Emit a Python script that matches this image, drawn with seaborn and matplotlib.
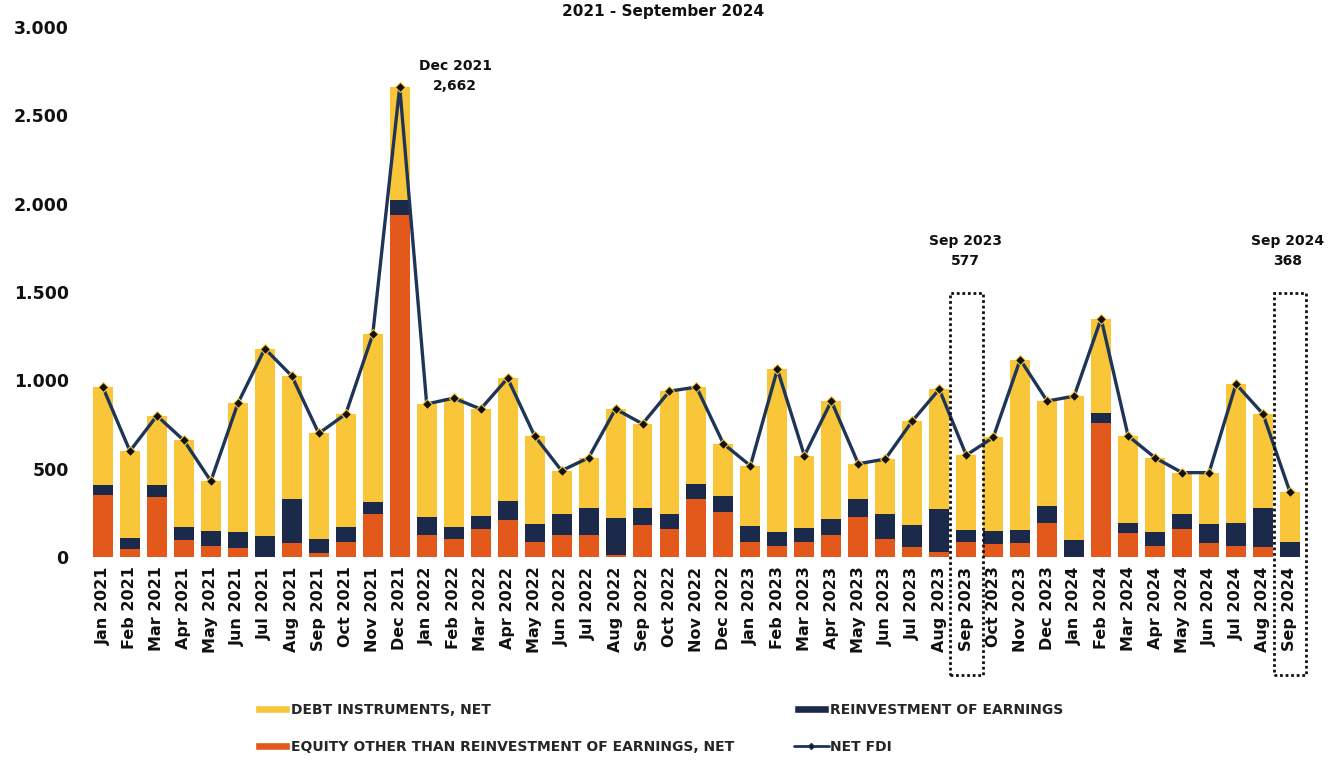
import numpy as np
import pandas as pd
import matplotlib
matplotlib.use("Agg")
import matplotlib.pyplot as plt
import seaborn as sns
from matplotlib.patches import Patch, Rectangle
from matplotlib.lines import Line2D

# Monthly net FDI components (USD million), Jan 2021 - Sep 2024
months = [f"{m} {y}" for y in (2021, 2022, 2023) for m in
          ("Jan", "Feb", "Mar", "Apr", "May", "Jun", "Jul", "Aug", "Sep", "Oct", "Nov", "Dec")]
months += [f"{m} 2024" for m in ("Jan", "Feb", "Mar", "Apr", "May", "Jun", "Jul", "Aug", "Sep")]

equity = [350, 45, 340, 95, 65, 50, 0, 80, 25, 85, 245, 1935,
          125, 105, 160, 210, 85, 125, 125, 10, 180, 160, 330, 255,
          85, 65, 85, 125, 225, 105, 55, 30, 85, 75, 80, 195,
          0, 760, 135, 65, 160, 80, 65, 55, 0]
reinvestment = [60, 65, 70, 75, 85, 90, 120, 250, 75, 85, 65, 85,
                100, 65, 70, 105, 105, 120, 155, 210, 95, 85, 85, 90,
                90, 75, 80, 90, 105, 140, 125, 240, 70, 75, 75, 95,
                95, 55, 60, 75, 85, 105, 130, 225, 85]
debt = [550, 490, 390, 490, 280, 730, 1060, 695, 600, 640, 950, 642,
        641, 730, 608, 697, 496, 244, 282, 618, 479, 694, 547, 296,
        342, 923, 409, 668, 198, 310, 590, 680, 422, 527, 963, 593,
        816, 535, 491, 422, 233, 293, 784, 530, 283]
net_fdi = [960, 600, 800, 660, 430, 870, 1180, 1025, 700, 810, 1260, 2662,
           866, 900, 838, 1012, 686, 489, 562, 838, 754, 939, 962, 641,
           517, 1063, 574, 883, 528, 555, 770, 950, 577, 677, 1118, 883,
           911, 1350, 686, 562, 478, 478, 979, 810, 368]

y_ticks = [0, 500, 1000, 1500, 2000, 2500, 3000]
callouts = [("Dec 2021", 2662), ("Sep 2023", 577), ("Sep 2024", 368)]
highlighted = ["Sep 2023", "Sep 2024"]

YELLOW = "#F9C63A"
ORANGE = "#E2591B"
NAVY = "#1B2A4A"
LINE = "#1E3557"

sns.set_theme(style="white")
plt.rcParams["font.family"] = ["DejaVu Sans"]
plt.rcParams["font.weight"] = "bold"

df = pd.DataFrame({"month": months, "equity": equity,
                   "reinvestment": reinvestment, "debt": debt, "net": net_fdi})
df["eq_re"] = df["equity"] + df["reinvestment"]
df["total"] = df["eq_re"] + df["debt"]
pos = np.arange(len(df))

fig = plt.figure(figsize=(13.35, 7.61), dpi=100)
ax = fig.add_axes([0.065, 0.261, 0.9134, 0.7035])

# stacked columns drawn as layered cumulative bars
bar_kw = dict(order=months, width=0.74, saturation=1, errorbar=None, ax=ax, linewidth=0)
sns.barplot(data=df, x="month", y="total", color=YELLOW, **bar_kw)
sns.barplot(data=df, x="month", y="eq_re", color=NAVY, **bar_kw)
sns.barplot(data=df, x="month", y="equity", color=ORANGE, **bar_kw)

# net FDI line
sns.lineplot(x=pos, y=df["net"].to_numpy(), color=LINE, linewidth=2.4, marker="D",
             markersize=5, markerfacecolor="#111111", markeredgecolor=YELLOW,
             markeredgewidth=0.8, ax=ax, legend=False, zorder=5)

ax.set_xlim(-0.6, len(df) - 0.4)
ax.set_ylim(-30, 3000)
ax.set_xlabel("")
ax.set_ylabel("")
ax.set_xticks(pos)
ax.set_xticklabels(months, rotation=90, fontsize=11.5, fontweight="bold", color="#111111")
ax.set_yticks(y_ticks)
ax.set_yticklabels([f"{v:,}".replace(",", ".") for v in y_ticks],
                   fontsize=12.5, fontweight="bold", color="#111111")
ax.tick_params(axis="x", length=0, pad=3)
ax.tick_params(axis="y", length=0, pad=13)
for s in ax.spines.values():
    s.set_visible(False)
ax.grid(False)

# callouts
label_pos = {"Dec 2021": (13.05, 2723), "Sep 2023": (31.97, 1732), "Sep 2024": (43.9, 1732)}
for name, val in callouts:
    x, y = label_pos[name]
    ax.text(x, y, f"{name}\n{val:,}", ha="center", va="center", fontsize=10,
            fontweight="bold", linespacing=1.55, color="#111111")

# dotted frames around the highlighted months
for name in highlighted:
    i = months.index(name)
    ax.add_patch(Rectangle((i - 0.61, -668), 1.22, 2162, fill=False, edgecolor="#111111",
                           linestyle=(0, (1, 1)), linewidth=2, clip_on=False, zorder=6))

fig.text(0.497, 1 - 16 / 761, "2021 - September 2024", ha="center", va="baseline",
         fontsize=11, fontweight="bold", color="#111111")

handles = [Patch(facecolor=YELLOW), Patch(facecolor=ORANGE), Patch(facecolor=NAVY),
           Line2D([0], [0], color=LINE, linewidth=2, marker="D", markersize=3,
                  markerfacecolor="#111111")]
labels = ["DEBT INSTRUMENTS, NET", "EQUITY OTHER THAN REINVESTMENT OF EARNINGS, NET",
          "REINVESTMENT OF EARNINGS", "NET FDI"]
fig.legend(handles, labels, ncol=2, loc="upper left", bbox_to_anchor=(255 / 1335, 1 - 703 / 761),
           frameon=False, prop={"weight": "bold", "size": 10},
           handlelength=2.5, handleheight=0.55, handletextpad=0.1,
           columnspacing=4.3, labelspacing=1.65, borderpad=0, borderaxespad=0)

fig.savefig("out.png", dpi=100, facecolor="white")
